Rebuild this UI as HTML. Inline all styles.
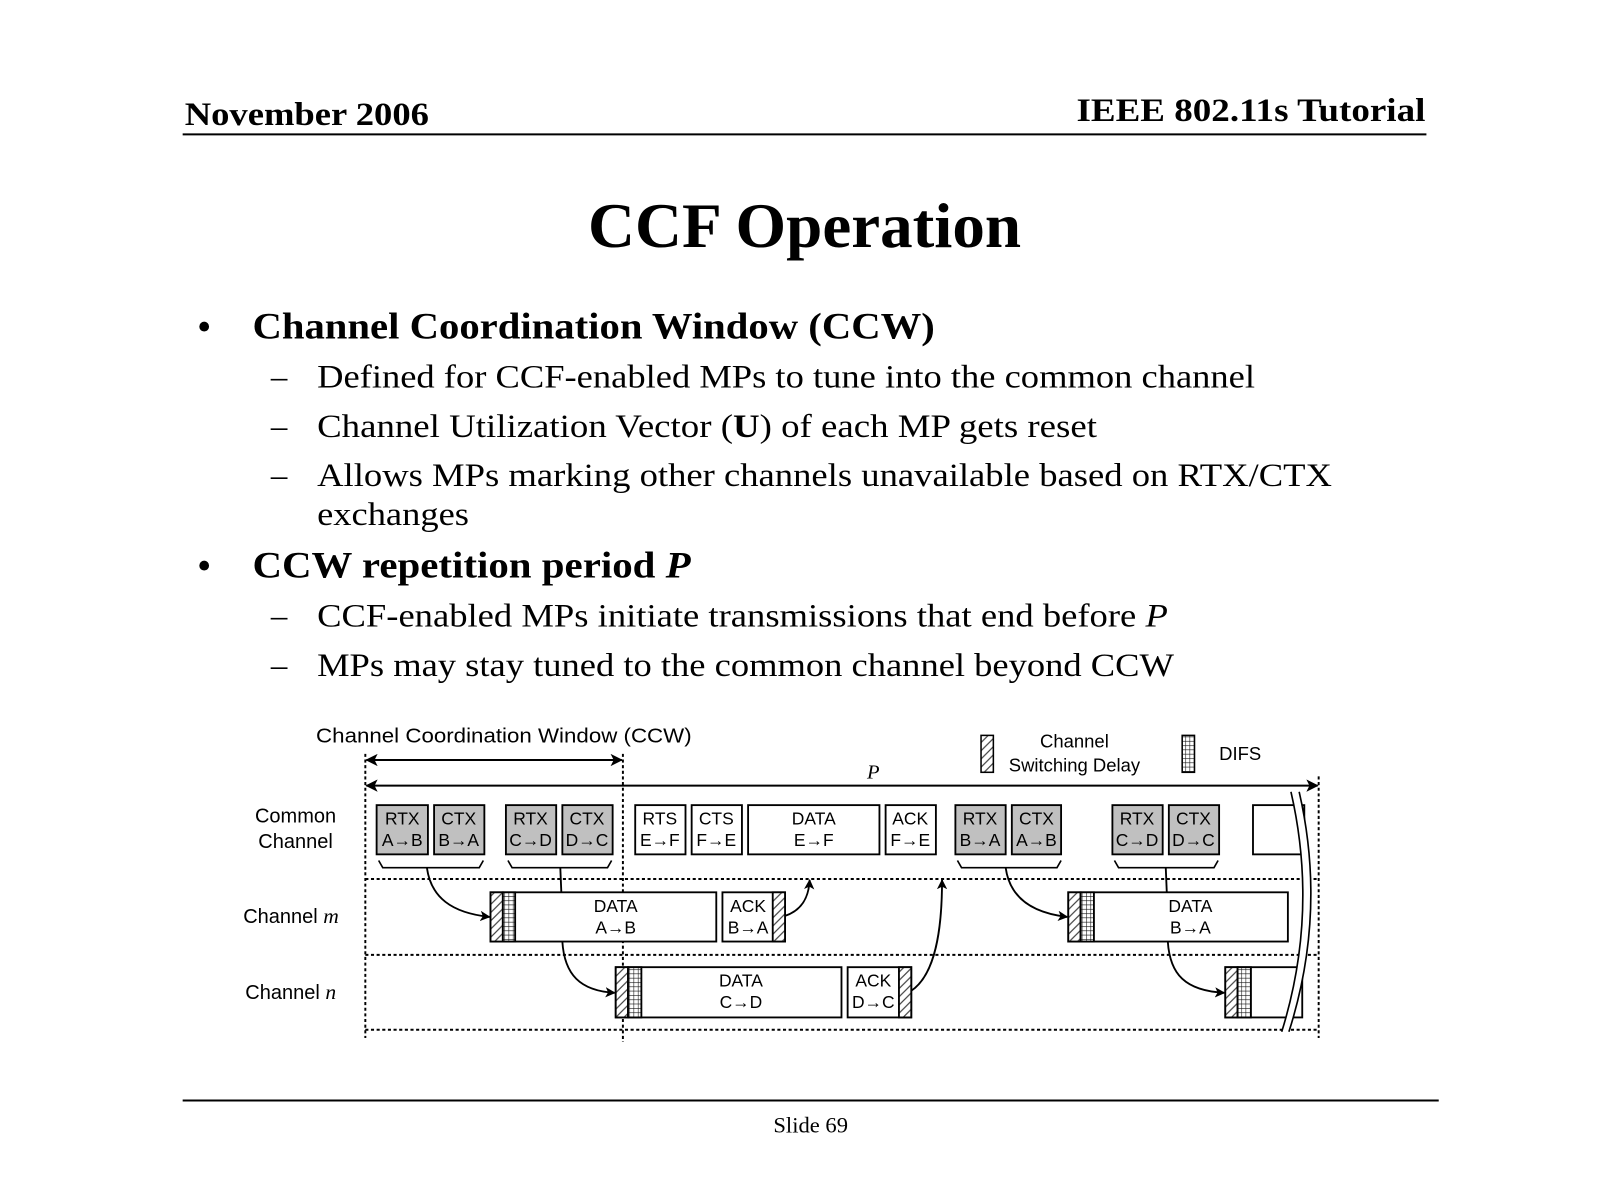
<!DOCTYPE html>
<html><head><meta charset="utf-8"><style>
html,body{margin:0;padding:0;background:#fff;}
svg{display:block;}
.ser{font-family:"Liberation Serif",serif;}
.san{font-family:"Liberation Sans",sans-serif;}
</style></head><body>
<svg width="1606" height="1200" viewBox="0 0 1565 1170" preserveAspectRatio="none" xmlns="http://www.w3.org/2000/svg">
<defs>
<pattern id="hatch" patternUnits="userSpaceOnUse" width="8" height="8">
<rect width="8" height="8" fill="#fff"/>
<path d="M-2,10 L10,-2 M-2,2 L2,-2 M6,10 L10,6" stroke="#444" stroke-width="1.2"/>
</pattern>
<pattern id="grid" patternUnits="userSpaceOnUse" width="4.2" height="4.2" x="0" y="0">
<rect width="4.2" height="4.2" fill="#fff"/>
<path d="M0,0 H4.2 M0,0 V4.2" stroke="#111" stroke-width="1.1"/>
</pattern>
<marker id="ah" markerWidth="10" markerHeight="10" refX="9" refY="5" orient="auto" markerUnits="userSpaceOnUse">
<path d="M0,0 L10,5 L0,10 L2.5,5 z" fill="#000"/>
</marker>
<marker id="ahs" markerWidth="12" markerHeight="12" refX="1" refY="6" orient="auto" markerUnits="userSpaceOnUse">
<path d="M12,0 L0,6 L12,12 L9,6 z" fill="#000"/>
</marker>
<marker id="ahe" markerWidth="12" markerHeight="12" refX="11" refY="6" orient="auto" markerUnits="userSpaceOnUse">
<path d="M0,0 L12,6 L0,12 L3,6 z" fill="#000"/>
</marker>
</defs>

<text class="ser" x="180" y="122" font-size="32" font-weight="bold" textLength="238" lengthAdjust="spacingAndGlyphs">November 2006</text>
<text class="ser" x="1389" y="118" font-size="32" font-weight="bold" text-anchor="end" textLength="340" lengthAdjust="spacingAndGlyphs">IEEE 802.11s Tutorial</text>
<line x1="178" y1="131" x2="1390" y2="131" stroke="#000" stroke-width="2"/>

<text class="ser" x="784" y="241" font-size="62" font-weight="bold" text-anchor="middle" textLength="422" lengthAdjust="spacingAndGlyphs">CCF Operation</text>

<g class="ser">
<text x="192" y="332" font-size="40">•</text>
<text x="246" y="330" font-size="36" font-weight="bold" textLength="665" lengthAdjust="spacingAndGlyphs">Channel Coordination Window (CCW)</text>
<text x="264" y="378" font-size="32">–</text>
<text x="309" y="378" font-size="32" textLength="914" lengthAdjust="spacingAndGlyphs">Defined for CCF-enabled MPs to tune into the common channel</text>
<text x="264" y="426" font-size="32">–</text>
<text x="309" y="426" font-size="32" textLength="760" lengthAdjust="spacingAndGlyphs">Channel Utilization Vector (<tspan font-weight="bold">U</tspan>) of each MP gets reset</text>
<text x="264" y="474" font-size="32">–</text>
<text x="309" y="474" font-size="32" textLength="989" lengthAdjust="spacingAndGlyphs">Allows MPs marking other channels unavailable based on RTX/CTX</text>
<text x="309" y="512" font-size="32" textLength="148" lengthAdjust="spacingAndGlyphs">exchanges</text>
<text x="192" y="565" font-size="40">•</text>
<text x="246" y="563" font-size="36" font-weight="bold" textLength="427" lengthAdjust="spacingAndGlyphs">CCW repetition period <tspan font-style="italic">P</tspan></text>
<text x="264" y="611" font-size="32">–</text>
<text x="309" y="611" font-size="32" textLength="829" lengthAdjust="spacingAndGlyphs">CCF-enabled MPs initiate transmissions that end before <tspan font-style="italic">P</tspan></text>
<text x="264" y="659" font-size="32">–</text>
<text x="309" y="659" font-size="32" textLength="835" lengthAdjust="spacingAndGlyphs">MPs may stay tuned to the common channel beyond CCW</text>
</g>

<g class="san" font-size="17">
<text x="308" y="724" font-size="19.5" textLength="366" lengthAdjust="spacingAndGlyphs">Channel Coordination Window (CCW)</text>
<line x1="357" y1="741" x2="606" y2="741" stroke="#000" stroke-width="2" marker-start="url(#ahs)" marker-end="url(#ahe)"/>
<line x1="357" y1="766" x2="1284" y2="766" stroke="#000" stroke-width="2" marker-start="url(#ahs)" marker-end="url(#ahe)"/>
<text x="851" y="759" font-size="20" class="ser" font-style="italic" text-anchor="middle">P</text>

<rect x="956" y="717" width="12" height="36" fill="url(#hatch)" stroke="#000" stroke-width="1.5"/>
<text x="1047" y="729" font-size="18" text-anchor="middle">Channel</text>
<text x="1047" y="752" font-size="18" text-anchor="middle">Switching Delay</text>
<rect x="1152" y="717" width="12" height="36" fill="url(#grid)" stroke="#000" stroke-width="1.5"/>
<text x="1188" y="741" font-size="18">DIFS</text>

<g stroke="#000" stroke-width="1.9" stroke-dasharray="3,2.5" fill="none">
<line x1="356" y1="735" x2="356" y2="1012"/>
<line x1="607" y1="735" x2="607" y2="1016"/>
<line x1="1285" y1="757" x2="1285" y2="1012"/>
<line x1="356" y1="857" x2="1285" y2="857"/>
<line x1="356" y1="931" x2="1285" y2="931"/>
<line x1="356" y1="1004" x2="1285" y2="1004"/>
</g>

<text x="288" y="802" font-size="19.5" text-anchor="middle">Common</text>
<text x="288" y="827" font-size="19.5" text-anchor="middle">Channel</text>
<text x="237" y="900" font-size="19.5">Channel <tspan class="ser" font-style="italic" font-size="21">m</tspan></text>
<text x="239" y="974" font-size="19.5">Channel <tspan class="ser" font-style="italic" font-size="21">n</tspan></text>

<g stroke="#000" stroke-width="1.8">
<rect x="367" y="785" width="50" height="48" fill="#c0c0c0"/>
<rect x="423" y="785" width="49" height="48" fill="#c0c0c0"/>
<rect x="493" y="785" width="49" height="48" fill="#c0c0c0"/>
<rect x="548" y="785" width="49" height="48" fill="#c0c0c0"/>
<rect x="619" y="785" width="49" height="48" fill="#fff"/>
<rect x="674" y="785" width="49" height="48" fill="#fff"/>
<rect x="729" y="785" width="128" height="48" fill="#fff"/>
<rect x="863" y="785" width="49" height="48" fill="#fff"/>
<rect x="931" y="785" width="49" height="48" fill="#c0c0c0"/>
<rect x="986" y="785" width="48" height="48" fill="#c0c0c0"/>
<rect x="1084" y="785" width="49" height="48" fill="#c0c0c0"/>
<rect x="1139" y="785" width="49" height="48" fill="#c0c0c0"/>
<rect x="1221" y="785" width="50" height="48" fill="#fff"/>
</g>
<g text-anchor="middle" font-size="17">
<text x="392" y="804">RTX</text><text x="392" y="825">A→B</text>
<text x="447" y="804">CTX</text><text x="447" y="825">B→A</text>
<text x="517" y="804">RTX</text><text x="517" y="825">C→D</text>
<text x="572" y="804">CTX</text><text x="572" y="825">D→C</text>
<text x="643" y="804">RTS</text><text x="643" y="825">E→F</text>
<text x="698" y="804">CTS</text><text x="698" y="825">F→E</text>
<text x="793" y="804">DATA</text><text x="793" y="825">E→F</text>
<text x="887" y="804">ACK</text><text x="887" y="825">F→E</text>
<text x="955" y="804">RTX</text><text x="955" y="825">B→A</text>
<text x="1010" y="804">CTX</text><text x="1010" y="825">A→B</text>
<text x="1108" y="804">RTX</text><text x="1108" y="825">C→D</text>
<text x="1163" y="804">CTX</text><text x="1163" y="825">D→C</text>
</g>

<g stroke="#000" stroke-width="1.6" fill="none">
<path d="M369,839 L373,846 L467,846 L471,839"/>
<path d="M495,839 L499,846 L592,846 L596,839"/>
<path d="M933,839 L937,846 L1030,846 L1034,839"/>
<path d="M1086,839 L1090,846 L1183,846 L1187,839"/>
</g>

<g stroke="#000" stroke-width="1.8">
<rect x="478" y="870" width="220" height="48" fill="#fff"/>
<rect x="478" y="870" width="12" height="48" fill="url(#hatch)"/>
<rect x="490" y="870" width="12" height="48" fill="url(#grid)"/>
<rect x="704" y="870" width="61" height="48" fill="#fff"/>
<rect x="753" y="870" width="12" height="48" fill="url(#hatch)"/>
<rect x="1041" y="870" width="214" height="48" fill="#fff"/>
<rect x="1041" y="870" width="12" height="48" fill="url(#hatch)"/>
<rect x="1053" y="870" width="13" height="48" fill="url(#grid)"/>
</g>
<g text-anchor="middle" font-size="17">
<text x="600" y="889">DATA</text><text x="600" y="910">A→B</text>
<text x="729" y="889">ACK</text><text x="729" y="910">B→A</text>
<text x="1160" y="889">DATA</text><text x="1160" y="910">B→A</text>
</g>

<g stroke="#000" stroke-width="1.8">
<rect x="600" y="943" width="220" height="49" fill="#fff"/>
<rect x="600" y="943" width="12" height="49" fill="url(#hatch)"/>
<rect x="612" y="943" width="13" height="49" fill="url(#grid)"/>
<rect x="826" y="943" width="62" height="49" fill="#fff"/>
<rect x="876" y="943" width="12" height="49" fill="url(#hatch)"/>
<rect x="1194" y="943" width="75" height="49" fill="#fff"/>
<rect x="1194" y="943" width="12" height="49" fill="url(#hatch)"/>
<rect x="1206" y="943" width="13" height="49" fill="url(#grid)"/>
</g>
<g text-anchor="middle" font-size="17">
<text x="722" y="962">DATA</text><text x="722" y="983">C→D</text>
<text x="851" y="962">ACK</text><text x="851" y="983">D→C</text>
</g>

<path d="M1258,772 Q1285,890 1249,1006 L1256,1006 Q1293,890 1266,772 Z" fill="#fff" stroke="none"/>
<path d="M1258,772 Q1285,890 1249,1006" fill="none" stroke="#000" stroke-width="1.6"/>
<path d="M1266,772 Q1293,890 1256,1006" fill="none" stroke="#000" stroke-width="1.6"/>

<g stroke="#000" stroke-width="1.8" fill="none">
<path d="M416,846 C420,875 440,890 477,894" marker-end="url(#ah)"/>
<path d="M546,846 L547,870"/>
<path d="M548,918 C550,950 565,966 599,968" marker-end="url(#ah)"/>
<path d="M765,893 C780,888 788,877 789,858" marker-end="url(#ah)"/>
<path d="M888,966 C912,950 918,905 918,858" marker-end="url(#ah)"/>
<path d="M980,846 C984,875 1005,890 1040,894" marker-end="url(#ah)"/>
<path d="M1136,846 L1137,870"/>
<path d="M1138,918 C1140,950 1155,966 1193,968" marker-end="url(#ah)"/>
</g>
</g>

<line x1="178" y1="1073" x2="1402" y2="1073" stroke="#000" stroke-width="2"/>
<text class="ser" x="790" y="1104" font-size="22" text-anchor="middle">Slide 69</text>
</svg>
</body></html>
